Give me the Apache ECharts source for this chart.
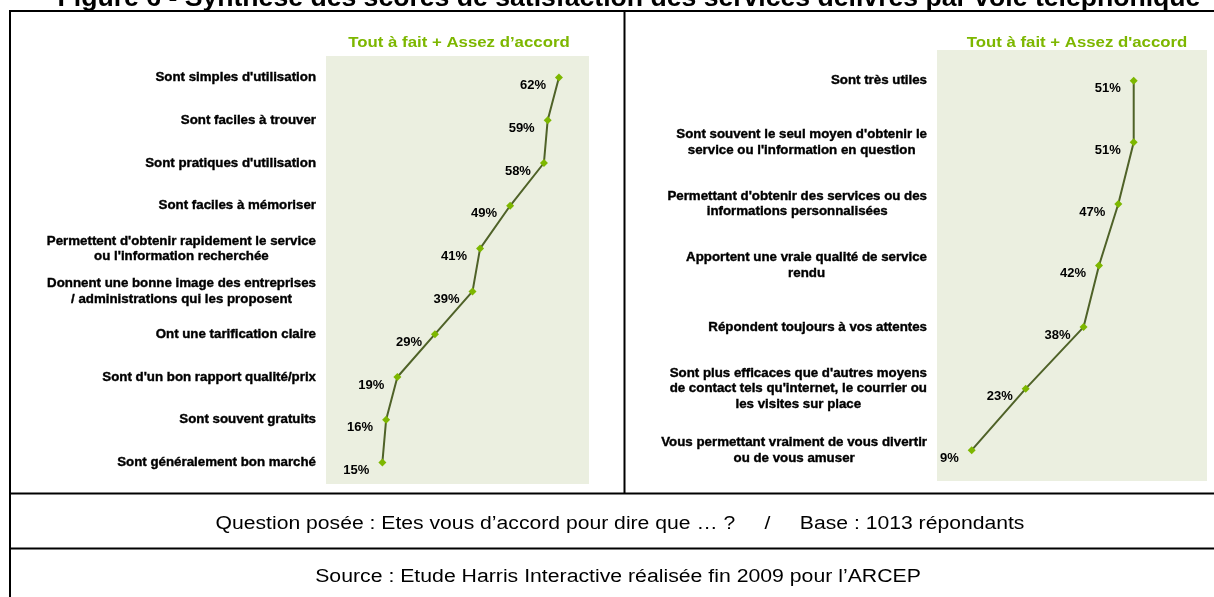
<!DOCTYPE html>
<html>
<head>
<meta charset="utf-8">
<script src="https://cdn.jsdelivr.net/npm/echarts@6/dist/echarts.min.js"></script>
<style>
html,body{margin:0;padding:0;background:#fff;}
#chart{width:1214px;height:597px;}
</style>
</head>
<body>
<div id="chart"></div>
<script>
var leftCategories = [
  "Sont simples d'utilisation",
  "Sont faciles à trouver",
  "Sont pratiques d'utilisation",
  "Sont faciles à mémoriser",
  "Permettent d'obtenir rapidement le service\nou l'information recherchée",
  "Donnent une bonne image des entreprises\n/ administrations qui les proposent",
  "Ont une tarification claire",
  "Sont d'un bon rapport qualité/prix",
  "Sont souvent gratuits",
  "Sont généralement bon marché"
];
var leftValues = [62, 59, 58, 49, 41, 39, 29, 19, 16, 15];

var rightCategories = [
  "Sont très utiles",
  "Sont souvent le seul moyen d'obtenir le\nservice ou l'information en question",
  "Permettant d'obtenir des services ou des\ninformations personnalisées",
  "Apportent une vraie qualité de service\nrendu",
  "Répondent toujours à vos attentes",
  "Sont plus efficaces que d'autres moyens\nde contact tels qu'internet, le courrier ou\nles visites sur place",
  "Vous permettant vraiment de vous divertir\nou de vous amuser"
];
var rightValues = [51, 51, 47, 42, 38, 23, 9];

var titleText = "Figure 6 - Synthèse des scores de satisfaction des services délivrés par voie téléphonique";
var headerLeft = "Tout à fait + Assez d’accord";
var headerRight = "Tout à fait + Assez d'accord";
var questionText = "Question posée : Etes vous d’accord pour dire que … ?     /     Base : 1013 répondants";
var sourceText = "Source : Etude Harris Interactive réalisée fin 2009 pour l’ARCEP";

var FONT = "'Liberation Sans', Arial, sans-serif";
var GREEN = '#7DB700';
var LINE = '#4F6228';
var BG = '#EBEFE0';

var chart = echarts.init(document.getElementById('chart'), null, {renderer: 'canvas'});

function catLabel() {
  return {
    align: 'right',
    margin: 10,
    formatter: function (v) {
      return v.split('\n').map(function (l) { return '{c|' + l + '}'; }).join('\n');
    },
    rich: {
      c: {
        align: 'center',
        fontFamily: FONT,
        fontWeight: 'bold',
        fontSize: 13.3,
        lineHeight: 15.5,
        color: '#000',
        textBorderColor: '#000',
        textBorderWidth: 0.4
      }
    }
  };
}

function yAxisCfg(idx, cats) {
  return {
    type: 'category',
    gridIndex: idx,
    data: cats,
    inverse: true,
    axisLine: {show: false},
    axisTick: {show: false},
    splitLine: {show: false},
    axisLabel: catLabel()
  };
}

function xAxisCfg(idx) {
  return {
    type: 'value',
    gridIndex: idx,
    min: 0,
    max: 70,
    show: false,
    splitLine: {show: false}
  };
}

function seriesCfg(idx, vals) {
  return {
    type: 'line',
    xAxisIndex: idx,
    yAxisIndex: idx,
    data: vals,
    symbol: 'diamond',
    symbolSize: 8,
    showAllSymbol: true,
    animation: false,
    lineStyle: {color: LINE, width: 2},
    itemStyle: {color: GREEN},
    label: {
      show: true,
      position: 'left',
      distance: 9,
      offset: [0, 8],
      formatter: '{c}%',
      fontFamily: FONT,
      fontWeight: 'bold',
      fontSize: 13,
      color: '#000'
    }
  };
}

function txt(text, x, y, font, fill, sx) {
  return {
    type: 'text', x: x, y: y, scaleX: sx || 1, scaleY: 1,
    style: {text: text, x: 0, y: 0, align: 'center', verticalAlign: 'middle', font: font, fill: fill}
  };
}

var option = {
  animation: false,
  grid: [
    {left: 326, top: 56, width: 263, height: 428, show: true, backgroundColor: BG, borderWidth: 0, containLabel: false},
    {left: 937, top: 50, width: 270, height: 431, show: true, backgroundColor: BG, borderWidth: 0, containLabel: false}
  ],
  xAxis: [xAxisCfg(0), xAxisCfg(1)],
  yAxis: [yAxisCfg(0, leftCategories), yAxisCfg(1, rightCategories)],
  series: [seriesCfg(0, leftValues), seriesCfg(1, rightValues)],
  graphic: [
    txt(titleText, 629, -1, "bold 25px " + FONT, '#000', 1.064),
    {type: 'line', shape: {x1: 10, y1: 11, x2: 1214, y2: 11}, style: {stroke: '#000', lineWidth: 2}},
    {type: 'line', shape: {x1: 10, y1: 10, x2: 10, y2: 597}, style: {stroke: '#000', lineWidth: 2}},
    {type: 'line', shape: {x1: 624.5, y1: 11, x2: 624.5, y2: 493}, style: {stroke: '#000', lineWidth: 2}},
    {type: 'line', shape: {x1: 10, y1: 493.5, x2: 1214, y2: 493.5}, style: {stroke: '#000', lineWidth: 2}},
    {type: 'line', shape: {x1: 10, y1: 548.5, x2: 1214, y2: 548.5}, style: {stroke: '#000', lineWidth: 2}},
    txt(headerLeft, 459, 43, "bold 15px " + FONT, GREEN, 1.12),
    txt(headerRight, 1077, 43, "bold 15px " + FONT, GREEN, 1.12),
    txt(questionText, 620, 524.5, "18px " + FONT, '#000', 1.175),
    txt(sourceText, 618, 577, "18px " + FONT, '#000', 1.18)
  ]
};
chart.setOption(option);
</script>
</body>
</html>
